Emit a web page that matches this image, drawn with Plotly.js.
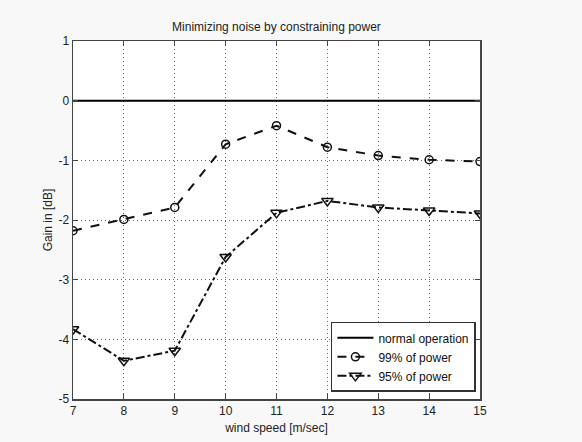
<!DOCTYPE html>
<html><head><meta charset="utf-8">
<script src="https://cdn.plot.ly/plotly-3.0.1.min.js"></script>
<style>html,body{margin:0;padding:0;background:#f8f8f8;}#chart{width:582px;height:442px;}</style>
</head><body><div id="chart"></div>
<script>
const windSpeed = [7, 8, 9, 10, 11, 12, 13, 14, 15];
const normalOperation = [0, 0, 0, 0, 0, 0, 0, 0, 0];
const power99 = [-2.18, -1.99, -1.79, -0.73, -0.42, -0.78, -0.92, -0.99, -1.02];
const power95 = [-3.83, -4.36, -4.19, -2.62, -1.88, -1.68, -1.79, -1.84, -1.89];
const seriesNames = ["normal operation", "99% of power", "95% of power"];
const xTicks = [7, 8, 9, 10, 11, 12, 13, 14, 15];
const yTicks = [-5, -4, -3, -2, -1, 0, 1];

const font = {family: "Liberation Sans, Arial, sans-serif", size: 12, color: "#222"};
const traces = [
  {x: windSpeed, y: normalOperation, name: seriesNames[0], mode: "lines",
   line: {color: "#000", width: 2}},
  {x: windSpeed, y: power99, name: seriesNames[1], mode: "lines+markers",
   line: {color: "#111", width: 2, dash: "dash"},
   marker: {symbol: "circle-open", size: 8, color: "#111", line: {width: 1.5, color: "#111"}}},
  {x: windSpeed, y: power95, name: seriesNames[2], mode: "lines+markers",
   line: {color: "#111", width: 2, dash: "dashdot"},
   marker: {symbol: "triangle-down-open", size: 10, color: "#111", line: {width: 1.5, color: "#111"}}}
];
const axisCommon = {
  showline: true, mirror: "ticks", linecolor: "#444", linewidth: 1.5,
  ticks: "inside", ticklen: 5, tickcolor: "#444",
  showgrid: true, gridcolor: "#666", griddash: "1px,3px", gridwidth: 1,
  zeroline: false, tickfont: font
};
const layout = {
  width: 582, height: 442,
  paper_bgcolor: "#f8f8f8", plot_bgcolor: "#ffffff",
  margin: {l: 73, r: 102, t: 41, b: 43},
  font: font,
  title: {text: "Minimizing noise by constraining power", font: {family: font.family, size: 12, color: "#222"}, x: 0.475, xanchor: "center", y: 0.94, yanchor: "middle"},
  xaxis: Object.assign({}, axisCommon, {range: [7, 15], tickvals: xTicks, ticktext: xTicks.map(String),
    title: {text: "wind speed [m/sec]", font: font, standoff: 6}}),
  yaxis: Object.assign({}, axisCommon, {range: [-5, 1], tickvals: yTicks, ticktext: yTicks.map(String),
    title: {text: "Gain in [dB]", font: font, standoff: 3}}),
  showlegend: true,
  legend: {x: 0.99, xanchor: "right", y: 0.02, yanchor: "bottom", bgcolor: "#ffffff",
    bordercolor: "#333", borderwidth: 1.5, font: {family: font.family, size: 12, color: "#111"},
    tracegroupgap: 0, itemwidth: 36}
};
Plotly.newPlot("chart", traces, layout, {displayModeBar: false, staticPlot: true});
</script></body></html>
